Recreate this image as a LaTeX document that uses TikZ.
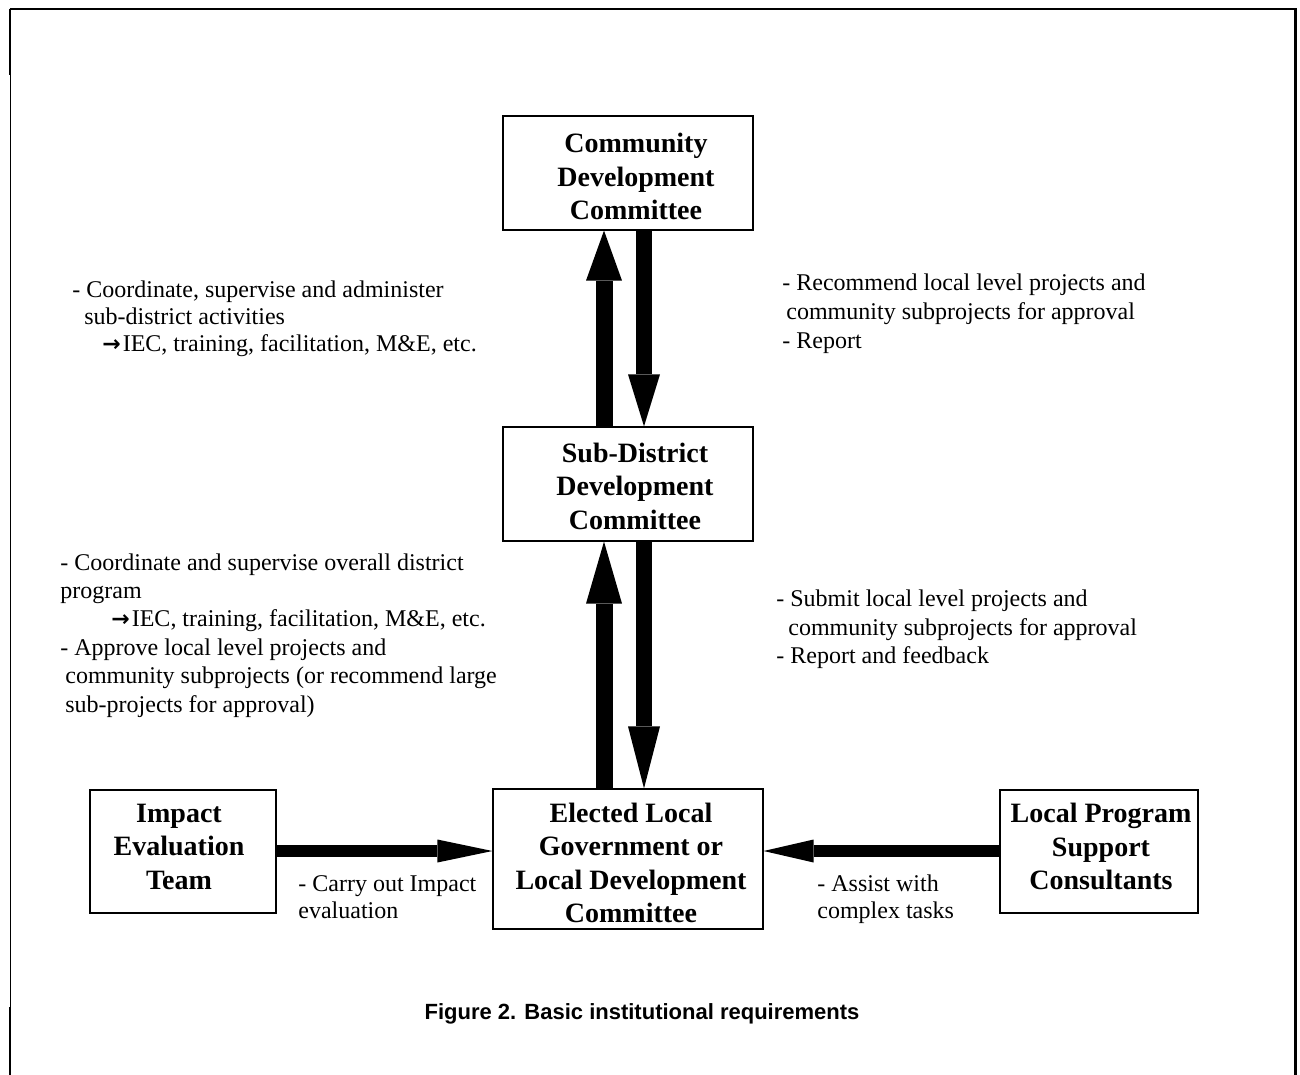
\documentclass[tikz,border=0pt]{standalone}
\usepackage{fontspec}
\setmainfont{Liberation Serif}
\newfontfamily\capfont{Liberation Sans}
\newfontfamily\symfont{DejaVu Sans}
\usetikzlibrary{arrows.meta}
\newcommand{\rarr}{{\symfont\bfseries\fontsize{11}{11}\selectfont →}\hspace{1pt}}
\begin{document}
\begin{tikzpicture}[x=0.5pt,y=-0.5pt,
  box/.style={draw, line width=0.6pt, inner sep=0pt},
  boxtext/.style={inner sep=0pt, align=center,
    font=\bfseries\fontsize{14}{16.75}\selectfont},
  lbl/.style={anchor=base west, inner sep=0pt, font=\fontsize{12}{13.8}\selectfont},
  vup/.style={line width=8.5pt, -{Triangle[length=25pt,width=18pt,line width=0pt]}},
  vdn/.style={line width=8pt, -{Triangle[length=26pt,width=16pt,line width=0pt]}},
  vupb/.style={line width=8.5pt, -{Triangle[length=31pt,width=18pt,line width=0pt]}},
  vdnb/.style={line width=8pt, -{Triangle[length=31pt,width=16pt,line width=0pt]}},
  hr/.style={line width=6pt, -{Triangle[length=27.5pt,width=11.5pt,line width=0pt]}},
  hl/.style={line width=6pt, -{Triangle[length=25pt,width=11.5pt,line width=0pt]}},
  thickfr/.style={line width=1.1pt},
  thinfr/.style={line width=0.5pt}]
\fill[white] (0,0) rectangle (1300,1075);
\useasboundingbox (0,0) rectangle (1300,1075);
% frame
\draw[thickfr] (9.5,9) -- (1296.5,9);
\draw[thickfr] (10.3,9) -- (10.3,75);
\draw[thinfr] (10,75) -- (10,1007);
\draw[thickfr] (10.3,1007) -- (10.3,1075);
\draw[line width=1.25pt] (1295.5,9) -- (1295.5,1075);
% boxes
\node[box, minimum width=125pt, minimum height=57pt] (cdc) at (628,173) {};
\node[boxtext] (cdct) at (636,176.5) {Community\\Development\\Committee};
\node[box, minimum width=125pt, minimum height=57pt] (sdc) at (628,484) {};
\node[boxtext] (sdct) at (635,486) {Sub-District\\Development\\Committee};
\node[box, minimum width=135pt, minimum height=70pt] (elg) at (628,859) {};
\node[boxtext] (elgt) at (631,863) {Elected Local\\Government or\\Local Development\\Committee};
\node[box, minimum width=93pt, minimum height=61.5pt] (iet) at (183,851.5) {};
\node[boxtext] (iett) at (179,846.5) {Impact\\Evaluation\\Team};
\node[box, minimum width=99pt, minimum height=61.5pt] (lps) at (1099,851.5) {};
\node[boxtext] (lpst) at (1101,846.5) {Local Program\\Support\\Consultants};
% connectors
\coordinate (ux) at (604,0);
\coordinate (dx) at (644,0);
\coordinate (hy) at (0,851);
\draw[vup] (sdc.north -| ux) -- (cdc.south -| ux);
\draw[vdn] (cdc.south -| dx) -- (sdc.north -| dx);
\draw[vupb] (elg.north -| ux) -- (sdc.south -| ux);
\draw[vdnb] (sdc.south -| dx) -- (elg.north -| dx);
\draw[hr] (iet.east |- hy) -- (elg.west |- hy);
\draw[hl] (lps.west |- hy) -- (elg.east |- hy);
% labels left top
\node[lbl] (a1) at (72,297) {- Coordinate, supervise and administer};
\node[lbl] (a2) at (84,324) {sub-district activities};
\node[lbl] (a3) at (102,351) {\rarr IEC, training, facilitation, M\&E, etc.};
% labels left middle
\node[lbl] (b1) at (60,570) {- Coordinate and supervise overall district};
\node[lbl] (b2) at (60,598.4) {program};
\node[lbl] (b3) at (111,626.8) {\rarr IEC, training, facilitation, M\&E, etc.};
\node[lbl] (b4) at (60,655.2) {- Approve local level projects and};
\node[lbl] (b5) at (65,683.6) {community subprojects (or recommend large};
\node[lbl] (b6) at (65,712) {sub-projects for approval)};
% labels right top
\node[lbl] (c1) at (782,291) {- Recommend local level projects and};
\node[lbl] (c2) at (786,319) {community subprojects for approval};
\node[lbl] (c3) at (782,348) {- Report};
% labels right middle
\node[lbl] (d1) at (776,606) {- Submit local level projects and};
\node[lbl] (d2) at (788,635) {community subprojects for approval};
\node[lbl] (d3) at (776,663) {- Report and feedback};
% bottom labels
\node[lbl] (e1) at (298,891) {- Carry out Impact};
\node[lbl] (e2) at (298,918) {evaluation};
\node[lbl] (f1) at (817,891) {- Assist with};
\node[lbl] (f2) at (817,918) {complex tasks};
% caption
\node[inner sep=0pt, font=\capfont\bfseries\fontsize{11}{13}\selectfont] (cap) at (642,1014) {Figure 2. Basic institutional requirements};
\end{tikzpicture}
\end{document}
